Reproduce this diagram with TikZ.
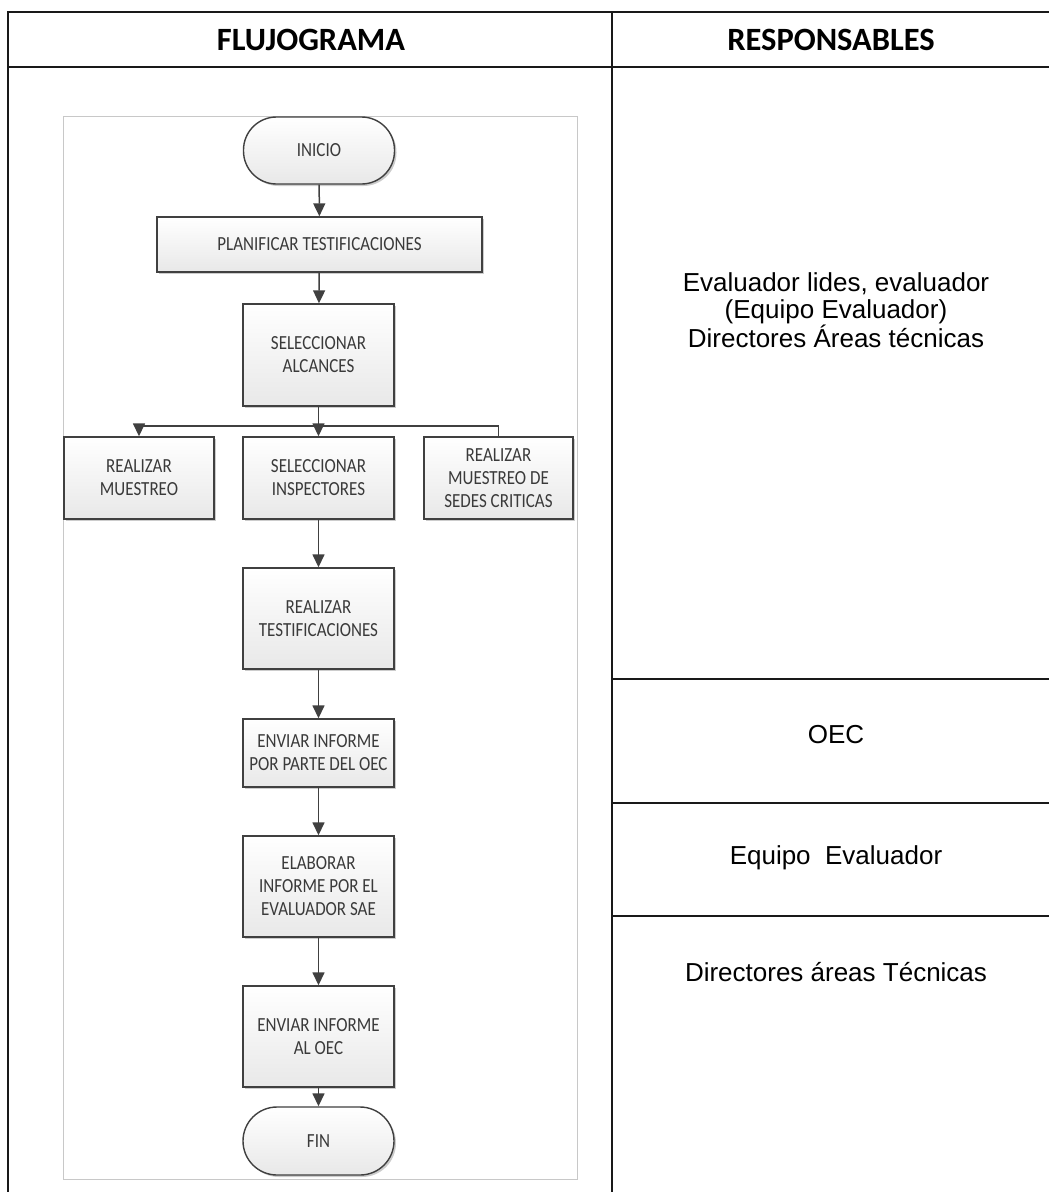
\documentclass[tikz,border=0pt]{standalone}
\usepackage{fontspec}
\setmainfont{Liberation Sans}
\newfontfamily\calibri{Carlito}[FakeStretch=0.85]
\newfontfamily\calibrihead{Carlito}
\usetikzlibrary{arrows.meta,shadows}

\definecolor{boxline}{HTML}{404040}
\definecolor{boxtext}{HTML}{3A3A3A}
\definecolor{framegray}{HTML}{C8C8C8}

\begin{document}
\begin{tikzpicture}[x=1pt,y=-1pt,
    proc/.style={draw=boxline,line width=1.4pt,top color=white,bottom color=black!9,
        minimum width=151pt,inner sep=0pt,align=center,text=boxtext,
        font={\calibri\fontsize{20}{23}\selectfont},
        drop shadow={shadow xshift=2pt,shadow yshift=-2pt,opacity=0.2,fill=black}},
    term/.style={proc,rounded corners=33pt,minimum height=67pt},
    flow/.style={draw=boxline,line width=1.5pt,-{Triangle[width=12pt,length=13pt]}},
    grid/.style={line width=2.4pt,black!90},
    head/.style={font={\calibrihead\bfseries\fontsize{32.5}{36}\selectfont}},
    resp/.style={align=center,font={\fontsize{26}{27.5}\selectfont}},
    ]

    \fill[white] (0,0) rectangle (1049,1192);
    \useasboundingbox (0,0) rectangle (1049,1192);

    % Table
    \draw[grid] (8,1192) -- (8,12) -- (1049,12);
    \draw[grid] (8,67) -- (1049,67);
    \draw[grid] (612,12) -- (612,1192);
    \foreach \y in {679,803,916}
        \draw[grid] (612,\y) -- (1049,\y);

    % Headers
    \node[head] (hflujo) at (311,40) {FLUJOGRAMA};
    \node[head] (hresp) at (831,40) {RESPONSABLES};

    % Flowchart frame
    \draw[framegray,line width=1pt] (63,116) rectangle (577,1179);

    % Boxes
    \node[term] (inicio) at (319,150.5) {INICIO};
    \node[proc,minimum width=325pt,minimum height=55pt] (plan) at (319.5,244.5) {PLANIFICAR TESTIFICACIONES};
    \node[proc,minimum height=102pt] (alcances) at (318.5,355) {SELECCIONAR\\ALCANCES};
    \node[proc,minimum width=150pt,minimum height=82pt] (muestreo) at (139,478) {REALIZAR\\MUESTREO};
    \node[proc,minimum height=82pt] (inspect) at (318.5,478) {SELECCIONAR\\INSPECTORES};
    \node[proc,minimum width=149pt,minimum height=82pt] (sedes) at (498.5,478) {REALIZAR\\MUESTREO DE\\SEDES CRITICAS};
    \node[proc,minimum height=101pt] (testif) at (318.5,618.5) {REALIZAR\\TESTIFICACIONES};
    \node[proc,minimum height=68pt] (envoec) at (318.5,753) {ENVIAR INFORME\\POR PARTE DEL OEC};
    \node[proc,minimum height=101pt] (elab) at (318.5,886.5) {ELABORAR\\INFORME POR EL\\EVALUADOR SAE};
    \node[proc,minimum height=101pt] (envial) at (318.5,1036.5) {ENVIAR INFORME\\AL OEC};
    \node[term,minimum height=68pt,rounded corners=34pt] (fin) at (318.5,1141) {FIN};

    % Arrows
    \coordinate (split) at (318.5,426);
    \draw[flow] (inicio) -- (plan);
    \draw[flow] (plan) -- (alcances);
    \draw[flow] (alcances) -- (inspect);
    \draw[flow] (sedes.north) |- (split) -| (muestreo.north);
    \draw[flow] (inspect) -- (testif);
    \draw[flow] (testif) -- (envoec);
    \draw[flow] (envoec) -- (elab);
    \draw[flow] (elab) -- (envial);
    \draw[flow] (envial) -- (fin);

    % Responsables
    \node[resp] (r1) at (836,310) {Evaluador lides, evaluador\\(Equipo Evaluador)\\Directores Áreas técnicas};
    \node[resp] (r2) at (836,735) {OEC};
    \node[resp] (r3) at (836,858) {Equipo~ Evaluador};
    \node[resp] (r4) at (836,972) {Directores áreas Técnicas};

\end{tikzpicture}
\end{document}
